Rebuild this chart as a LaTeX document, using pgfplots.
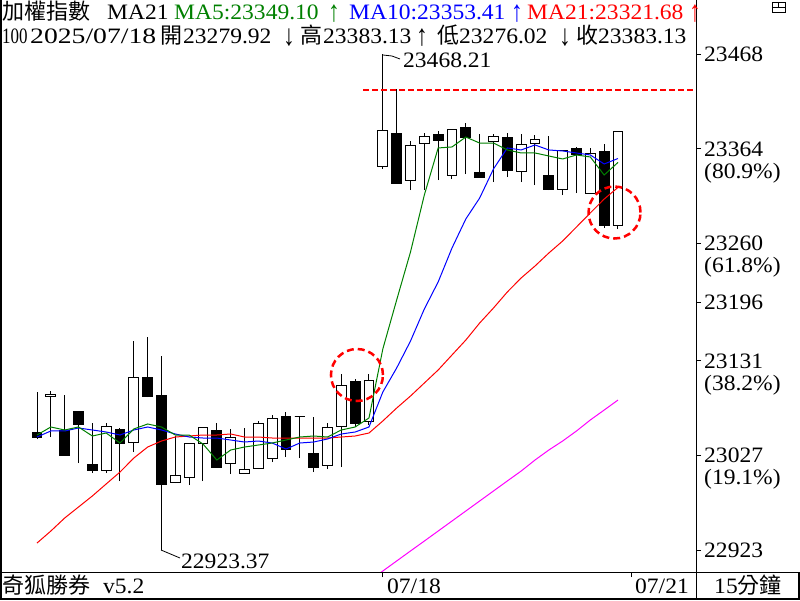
\documentclass[border=0pt]{standalone}
\usepackage{fontspec}
\setmainfont{Liberation Serif}[FakeStretch=1.07]
\newfontfamily\cjk{Noto Sans CJK TC}
\usepackage{pgfplots}
\usepackage{pgfplotstable}
\pgfplotsset{compat=1.18}
\definecolor{magreen}{RGB}{0,128,0}
\definecolor{mablue}{RGB}{0,0,255}
\definecolor{mared}{RGB}{255,0,0}
\definecolor{mamag}{RGB}{255,0,255}
\newcommand\up{\raisebox{-2.5pt}{\scalebox{1}[1.35]{↑}}}
\newcommand\dn{\raisebox{-2.5pt}{\scalebox{1}[1.35]{↓}}}

% candles: index open high low close up(1=white)
\pgfplotstableread{
i o h l c u
1 23051.9 23096.9 23045.3 23047.5 0
2 23092.5 23098.0 23047.5 23094.7 1
3 23054.1 23093.6 23027.7 23027.7 0
4 23076.0 23076.0 23018.9 23060.7 0
5 23017.8 23062.9 23007.9 23011.2 0
6 23011.2 23062.9 23007.9 23058.5 1
7 23055.2 23057.4 22999.1 23040.9 0
8 23042.0 23152.9 23031.0 23113.4 1
9 23113.4 23157.3 23091.4 23092.5 0
10 23093.6 23136.5 22923.37 22995.8 0
11 22998.0 23048.6 22996.9 23005.7 1
12 23003.5 23040.9 22994.7 23040.9 1
13 23040.9 23057.4 22999.1 23057.4 1
14 23054.1 23062.9 23014.5 23014.5 0
15 23018.9 23056.3 23006.8 23047.5 1
16 23007.9 23057.4 23007.9 23012.3 1
17 23013.4 23065.1 23012.3 23061.8 1
18 23024.4 23071.6 23020.0 23068.3 1
19 23070.5 23074.9 23025.5 23034.3 0
20 23070.5 23070.5 23024.4 23070.5 1
21 23029.9 23069.4 23009.0 23014.5 0
22 23016.7 23062.9 23012.3 23057.4 1
23 23058.5 23116.7 23014.5 23104.6 1
24 23109.0 23111.2 23058.5 23061.8 0
25 23064.0 23116.7 23060.7 23110.1 1
26 23344.1 23468.21 23341.9 23384.7 1
27 23381.4 23429.8 23326.5 23326.5 0
28 23329.8 23372.6 23318.8 23368.2 1
29 23370.4 23381.4 23318.8 23378.1 1
30 23380.3 23383.6 23329.8 23373.7 0
31 23335.3 23385.8 23330.9 23385.8 1
32 23388.0 23392.4 23336.4 23377.0 0
33 23337.5 23380.3 23333.1 23333.1 0
34 23372.6 23380.3 23327.6 23378.1 1
35 23377.0 23381.4 23333.1 23339.7 0
36 23338.6 23380.3 23327.6 23369.3 1
37 23370.4 23379.2 23324.3 23374.8 1
38 23335.3 23378.1 23318.8 23319.9 0
39 23319.9 23362.7 23313.3 23362.7 1
40 23364.9 23366.0 23315.5 23358.3 0
41 23315.5 23364.9 23315.5 23359.4 1
42 23361.6 23369.3 23277.1 23279.3 0
43 23279.92 23383.13 23276.02 23383.13 1
}\candles

\pgfplotstableread{
i v
1 23049.7
2 23058.5
3 23055.2
4 23058.5
5 23048.6
6 23051.9
7 23040.9
8 23056.3
9 23061.8
10 23058.5
11 23049.7
12 23049.7
13 23039.8
14 23022.2
15 23033.2
16 23036.5
17 23038.7
18 23040.9
19 23044.2
20 23047.5
21 23048.6
22 23047.5
23 23055.2
24 23058.5
25 23068.4
26 23144.2
27 23198.0
28 23250.7
29 23313.3
30 23365.0
31 23366.1
32 23377.0
33 23370.4
34 23370.4
35 23362.8
36 23359.5
37 23359.5
38 23356.2
39 23352.9
40 23357.3
41 23355.1
42 23335.3
43 23349.10
}\mafive

\pgfplotstableread{
i v
1 23047.5
2 23054.1
3 23054.1
4 23057.4
5 23055.2
6 23053.0
7 23049.7
8 23055.2
9 23058.5
10 23055.2
11 23050.8
12 23047.5
13 23046.4
14 23046.4
15 23044.2
16 23042.0
17 23043.1
18 23040.9
19 23034.3
20 23040.9
21 23042.0
22 23045.3
23 23050.8
24 23053.0
25 23058.5
26 23096.9
27 23123.3
28 23152.9
29 23188.1
30 23217.8
31 23255.1
32 23287.0
33 23310.0
34 23341.9
35 23365.0
36 23362.8
37 23368.3
38 23362.8
39 23361.7
40 23359.5
41 23357.3
42 23347.4
43 23353.41
}\maten

\pgfplotstableread{
i v
1 22931.0
2 22944.2
3 22958.5
4 22970.6
5 22982.7
6 22995.9
7 23009.0
8 23024.4
9 23036.5
10 23043.1
11 23047.5
12 23048.6
13 23049.7
14 23049.7
15 23050.8
16 23047.5
17 23047.5
18 23046.4
19 23046.4
20 23046.4
21 23046.4
22 23046.4
23 23047.5
24 23048.6
25 23051.9
26 23065.1
27 23079.3
28 23092.5
29 23106.8
30 23121.1
31 23137.6
32 23154.0
33 23172.7
34 23189.2
35 23206.8
36 23222.2
37 23235.3
38 23249.6
39 23262.8
40 23278.2
41 23293.6
42 23308.9
43 23321.68
}\matwentyone

\pgfplotstableread{
i v
25 22889.3
26 22900.3
27 22911.3
28 22922.3
29 22933.2
30 22944.2
31 22955.2
32 22966.2
33 22977.2
34 22988.2
35 22999.2
36 23010.1
37 23022.2
38 23033.2
39 23043.1
40 23054.1
41 23066.2
42 23077.1
43 23088.1
}\malong

\begin{document}
\begin{tikzpicture}
\path[use as bounding box] (0,0) rectangle (800pt,-600pt);
\begin{axis}[
  at={(1pt,0pt)}, anchor=north west,
  scale only axis, width=695pt, height=572pt,
  xmin=-1.6025, xmax=48.64, ymin=22899.2, ymax=23527.53,
  axis line style={draw=none},
  ytick={22923.37,23027.43,23131.5,23195.79,23260.06,23364.19,23468.21},
  yticklabels={,,,,,,}, ytick pos=right,
  xtick={26.01,44.01}, xticklabels={,}, xtick pos=bottom,
  tick align=outside, major tick length=5pt,
  tick style={black, line width=1pt},
]
\pgfplotstablegetrowsof{\candles}
\pgfmathtruncatemacro\nrows{\pgfplotsretval-1}
\pgfplotsforeachungrouped \r in {0,...,\nrows}{%
  \pgfplotstablegetelem{\r}{i}\of\candles \let\ci\pgfplotsretval
  \pgfplotstablegetelem{\r}{o}\of\candles \let\co\pgfplotsretval
  \pgfplotstablegetelem{\r}{h}\of\candles \let\ch\pgfplotsretval
  \pgfplotstablegetelem{\r}{l}\of\candles \let\cl\pgfplotsretval
  \pgfplotstablegetelem{\r}{c}\of\candles \let\cc\pgfplotsretval
  \pgfplotstablegetelem{\r}{u}\of\candles \let\cu\pgfplotsretval
  \pgfmathsetmacro\xa{\ci-0.36}%
  \pgfmathsetmacro\xb{\ci+0.36}%
  \ifnum\cu=1 \def\fc{white}\else\def\fc{black}\fi
  \edef\temp{%
    \noexpand\addplot[black, line width=1pt, forget plot] coordinates {(\ci,\cl) (\ci,\ch)};
    \noexpand\addplot[draw=black, fill=\fc, line width=1pt, forget plot] coordinates {(\xa,\co) (\xb,\co) (\xb,\cc) (\xa,\cc)} -- cycle;
  }\temp
}
\addplot[mamag, line width=1pt] table[x=i, y=v] {\malong};
\addplot[mared, line width=1pt] table[x=i, y=v] {\matwentyone};
\addplot[mablue, line width=1pt] table[x=i, y=v] {\maten};
\addplot[magreen, line width=1pt] table[x=i, y=v] {\mafive};
\addplot[mared, line width=2pt, dash pattern=on 6pt off 3pt] coordinates {(24.57,23428.7) (48.64,23428.7)};
\addplot[only marks, mark=o, mark size=26pt,
  mark options={mared, line width=2.5pt, dash pattern=on 7pt off 4pt}]
  coordinates {(24.13,23115.6) (42.75,23294.1)};
\end{axis}

\begin{scope}[x=1pt, y=-1pt, every node/.style={inner sep=0pt, anchor=base west, font=\fontsize{22}{26}\selectfont}]
% frame
\draw[line width=1.5pt] (0.75,0) -- (0.75,600);
\draw[line width=1pt] (696.5,0) -- (696.5,600);
\draw[line width=1pt] (0,572) -- (800,572);
\draw[line width=2pt] (0,599) -- (800,599);
\draw[line width=2pt] (799,572) -- (799,600);
% window icon
\draw[line width=0.8pt] (772,2.5) rectangle (785,12);
\draw[line width=0.8pt] (772,7) -- (785,7);
\draw[line width=0.8pt] (778.5,2.5) -- (778.5,7);
% header line 1
\node at (2,19) {\cjk 加權指數};
\node at (107,19) {MA21};
\node[text=magreen] at (174,19) {MA5:23349.10};
\node[text=magreen] at (328,19) {\up};
\node[text=mablue] at (349,19) {MA10:23353.41};
\node[text=mablue] at (511,19) {\up};
\node[text=mared] at (527,19) {MA21:23321.68};
\node[text=mared] at (689,19) {\up};
% header line 2
\node at (2,43) {\scalebox{0.72}[1]{100}};
\node at (30,43) {\resizebox{126pt}{\height}{2025/07/18}};
\node at (160,43) {\cjk 開};
\node at (183,43) {23279.92};
\node at (283,43) {\dn};
\node at (300,43) {\cjk 高};
\node at (323,43) {23383.13};
\node at (416,43) {\up};
\node at (437,43) {\cjk 低};
\node at (459,43) {23276.02};
\node at (559,43) {\dn};
\node at (576,43) {\cjk 收};
\node at (598,43) {23383.13};
% right axis labels
\node at (704,61.5) {23468};
\node at (704,156.2) {23364};
\node at (704,178.2) {(80.9\%)};
\node at (704,250.9) {23260};
\node at (704,272.9) {(61.8\%)};
\node at (704,309.5) {23196};
\node at (704,368) {23131};
\node at (704,390) {(38.2\%)};
\node at (704,462.8) {23027};
\node at (704,484.8) {(19.1\%)};
\node at (704,557.5) {22923};
% high / low annotations
\draw[line width=0.8pt] (383,55) -- (392,56) -- (400,59);
\node at (403,67) {23468.21};
\draw[line width=0.8pt] (161,550) -- (180,558);
\node at (181,568) {22923.37};
% bottom strip
\node at (2,593) {\cjk 奇狐勝券};
\node at (103,593) {v5.2};
\node at (387,593) {07/18};
\node at (635,593) {07/21};
\node[anchor=base] at (748,593) {15{\cjk 分鐘}};
\end{scope}
\end{tikzpicture}
\end{document}
